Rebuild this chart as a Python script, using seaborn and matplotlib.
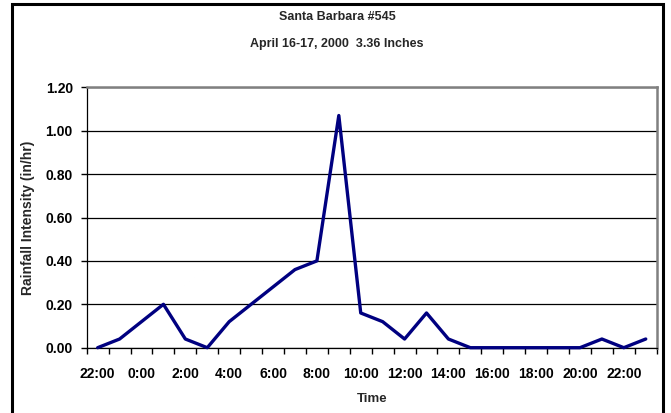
import numpy as np
import pandas as pd
import matplotlib
matplotlib.use("Agg")
import matplotlib.pyplot as plt
import seaborn as sns
from matplotlib.patches import Rectangle
from matplotlib.ticker import FixedLocator, FormatStrFormatter

# Hourly rainfall, 22:00 on April 16 through 23:00 on April 17
hours = ["22:00", "23:00", "0:00", "1:00", "2:00", "3:00", "4:00", "5:00",
         "6:00", "7:00", "8:00", "9:00", "10:00", "11:00", "12:00", "13:00",
         "14:00", "15:00", "16:00", "17:00", "18:00", "19:00", "20:00",
         "21:00", "22:00", "23:00"]
intensity = [0.00, 0.04, 0.12, 0.20, 0.04, 0.00, 0.12, 0.20, 0.28, 0.36,
             0.40, 1.07, 0.16, 0.12, 0.04, 0.16, 0.04, 0.00, 0.00, 0.00,
             0.00, 0.00, 0.00, 0.04, 0.00, 0.04]
y_ticks = [0.0, 0.2, 0.4, 0.6, 0.8, 1.0, 1.2]

title_lines = ["Santa Barbara #545", "April 16-17, 2000  3.36 Inches"]

sns.set_theme(style="white")
plt.rcParams["font.family"] = ["Liberation Sans", "DejaVu Sans"]
plt.rcParams["font.weight"] = "bold"

W, H = 671, 413
fig = plt.figure(figsize=(W / 100, H / 100), dpi=100)
fig.patch.set_facecolor("white")

# plot area in pixel terms
left, right, top, bottom = 86.7, 656.7, 87.3, 347.7
ax = fig.add_axes([left / W, 1 - bottom / H, (right - left) / W, (bottom - top) / H])

df = pd.DataFrame({"pos": np.arange(len(hours)), "hour": hours, "intensity": intensity})
sns.lineplot(data=df, x="pos", y="intensity", ax=ax, color="#000080",
             linewidth=2.4, clip_on=False, zorder=3)

n = len(hours)
ax.set_xlim(-0.5, n - 0.5)
ax.set_ylim(0, 1.2)

# category axis: labels every second hour, tick marks between categories
ax.xaxis.set_major_locator(FixedLocator(np.arange(0, n, 2)))
ax.set_xticklabels(hours[::2])
ax.xaxis.set_minor_locator(FixedLocator(np.arange(-0.5, n, 1.0)))
ax.tick_params(axis="x", which="major", length=0, pad=14, labelsize=10, colors="black")
ax.tick_params(axis="x", which="minor", length=4, width=1, direction="out",
               color="black", bottom=True)

ax.set_yticks(y_ticks)
ax.yaxis.set_major_formatter(FormatStrFormatter("%.2f"))
ax.tick_params(axis="y", which="major", length=4, width=1, direction="out",
               pad=6, labelsize=10, colors="black", left=True)

for lab in ax.get_xticklabels() + ax.get_yticklabels():
    lab.set_fontweight("bold")

ax.set_axisbelow(True)
ax.grid(axis="y", color="black", linewidth=0.9)
ax.grid(axis="x", visible=False)

for side in ("left", "bottom"):
    ax.spines[side].set_color("black")
    ax.spines[side].set_linewidth(0.9)
for side in ("top", "right"):
    ax.spines[side].set_color("#808080")
    ax.spines[side].set_linewidth(1.8)
for s in ax.spines.values():
    s.set_visible(True)

ax.set_xlabel("")
ax.set_ylabel("")

fig.text((left + right) / 2 / W, 1 - 399 / H, "Time", ha="center", va="center",
         fontsize=9.5, fontweight="bold")
fig.text(28 / W, 1 - (top + bottom) / 2 / H, "Rainfall Intensity (in/hr)",
         rotation=90, ha="center", va="center", fontsize=10, fontweight="bold")
fig.text(337 / W, 1 - 17 / H, title_lines[0], ha="center", va="center",
         fontsize=9, fontweight="bold")
fig.text(337 / W, 1 - 44 / H, title_lines[1], ha="center", va="center",
         fontsize=9, fontweight="bold")

# chart frame
fig.patches.append(Rectangle((12 / W, -0.02), (663 - 12) / W, 1 - 4 / H + 0.02,
                             transform=fig.transFigure, fill=False,
                             edgecolor="black", linewidth=2.2))

fig.savefig("out.png", dpi=100)
